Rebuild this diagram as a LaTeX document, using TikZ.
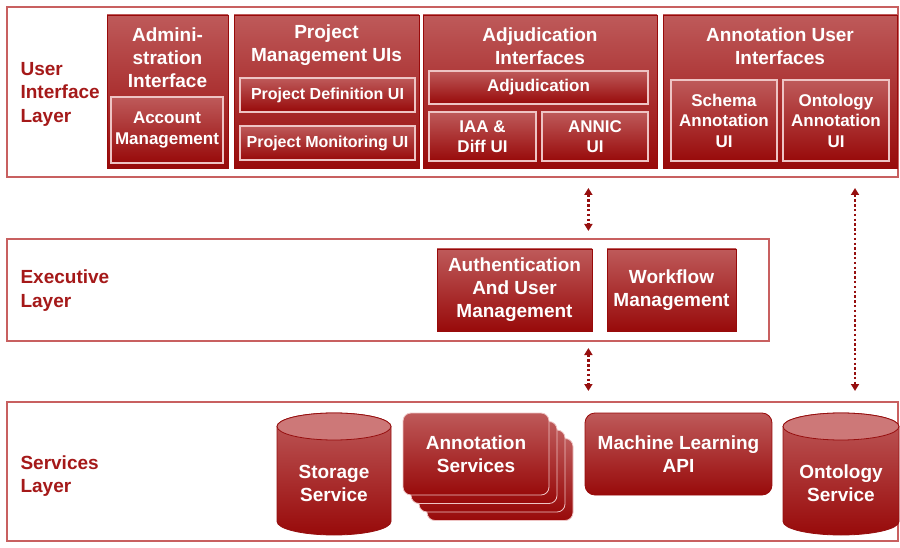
\documentclass[tikz,border=0pt]{standalone}
\usepackage{fontspec}
\setmainfont{Liberation Sans}
\usetikzlibrary{arrows.meta}

\definecolor{boxtop}{RGB}{190,90,90}
\definecolor{boxbot}{RGB}{152,10,10}
\definecolor{rim}{RGB}{238,196,196}
\definecolor{layerline}{RGB}{200,96,96}
\definecolor{layertext}{RGB}{165,25,25}
\definecolor{darkred}{RGB}{150,15,15}
\definecolor{captop}{RGB}{205,120,120}

\tikzset{
    layer/.style={draw=layerline, line width=2pt, fill=white, inner sep=0pt},
    layername/.style={anchor=west, text=layertext, font=\fontsize{19}{23.5}\selectfont\bfseries, align=left},
    redbox/.style={top color=boxtop, bottom color=boxbot, draw=boxbot, line width=0.8pt, inner sep=0pt,
        text=white, align=center, font=\fontsize{19}{23}\selectfont\bfseries},
    innerbox/.style={redbox, draw=rim, line width=1.2pt, font=\fontsize{17}{20.5}\selectfont\bfseries},
    title/.style={text=white, align=center, font=\fontsize{19}{23}\selectfont\bfseries},
    cylbody/.style={top color=boxtop, bottom color=boxbot, draw=darkred, line width=0.8pt},
    cyltop/.style={fill=captop, draw=darkred, line width=0.8pt},
    link/.style={draw=darkred, line width=2.4pt, dash pattern=on 2.4pt off 2.4pt,
        {Triangle[length=7pt,width=8pt]}-{Triangle[length=7pt,width=8pt]}}
}

\begin{document}
\begin{tikzpicture}[x=1pt, y=1pt]
    \useasboundingbox (0, 0) rectangle (900, 547);

    % layers
    \node[layer, minimum width=891pt, minimum height=170pt] (ui) at (452.5, 455) {};
    \node[layer, minimum width=762pt, minimum height=102pt] (exec) at (388, 257) {};
    \node[layer, minimum width=891pt, minimum height=139pt] (serv) at (452.5, 75.5) {};

    \node[layername] (uiname) at (17, 453) {User\\Interface\\Layer};
    \node[layername] (execname) at (17, 256.5) {Executive\\Layer};
    \node[layername] (servname) at (17, 71) {Services\\Layer};

    % user interface layer
    \node[redbox, minimum width=121pt, minimum height=153pt] (admin) at (167.5, 455.5) {};
    \node[redbox, minimum width=185pt, minimum height=153pt] (pm) at (326.5, 455.5) {};
    \node[redbox, minimum width=234pt, minimum height=153pt] (adj) at (540, 455.5) {};
    \node[redbox, minimum width=234pt, minimum height=153pt] (aui) at (780, 455.5) {};

    \node[title] (admintitle) at (167.5, 489) {Admini-\\stration\\Interface};
    \node[title] (pmtitle) at (326.5, 501.5) {Project\\Management UIs};
    \node[title] (adjtitle) at (540, 500.5) {Adjudication\\Interfaces};
    \node[title] (auititle) at (780, 500.5) {Annotation User\\Interfaces};

    \node[innerbox, minimum width=112pt, minimum height=66pt] (acct) at (167, 417) {Account\\Management};
    \node[innerbox, minimum width=175pt, minimum height=34pt, font=\fontsize{16}{19}\selectfont\bfseries] (pdef) at (327.5, 452) {Project Definition UI};
    \node[innerbox, minimum width=175pt, minimum height=34pt, font=\fontsize{16}{19}\selectfont\bfseries] (pmon) at (327.5, 404) {Project Monitoring UI};
    \node[innerbox, minimum width=219pt, minimum height=33pt] (adjud) at (538.5, 459.5) {Adjudication};
    \node[innerbox, minimum width=107pt, minimum height=49pt] (iaa) at (482.5, 410.5) {IAA \&\\Diff UI};
    \node[innerbox, minimum width=106pt, minimum height=49pt] (annic) at (595, 410.5) {ANNIC\\UI};
    \node[innerbox, minimum width=106pt, minimum height=81pt] (schema) at (724, 426.5) {Schema\\Annotation\\UI};
    \node[innerbox, minimum width=106pt, minimum height=81pt] (ontoui) at (836, 426.5) {Ontology\\Annotation\\UI};

    % executive layer
    \node[redbox, minimum width=155pt, minimum height=82pt] (auth) at (514.5, 257) {Authentication\\And User\\Management};
    \node[redbox, minimum width=129pt, minimum height=82pt] (workflow) at (671.5, 257) {Workflow\\Management};

    % services layer
    \foreach \cx/\rx/\name/\word in {334/57/storage/Storage, 841/58/ontology/Ontology} {
        \path[cylbody] ({\cx - \rx}, 120.5) -- ({\cx - \rx}, 25.5)
            arc[start angle=180, end angle=360, x radius=\rx, y radius=13.5]
            -- ({\cx + \rx}, 120.5)
            arc[start angle=0, end angle=180, x radius=\rx, y radius=13.5] -- cycle;
        \path[cyltop] (\cx, 120.5) ellipse[x radius=\rx, y radius=13.5];
        \node[title] (\name) at (\cx, 63.5) {\word\\Service};
    }

    \foreach \k in {3, 2, 1} {
        \node[redbox, draw=rim, rounded corners=8pt, minimum width=146pt, minimum height=82pt]
            (annot\k) at ({476 + 8 * \k}, {93 - 8.5 * \k}) {};
    }
    \node[redbox, draw=rim, rounded corners=8pt, minimum width=146pt, minimum height=82pt] (annot) at (476, 93) {Annotation\\Services};
    \node[redbox, rounded corners=10pt, minimum width=187pt, minimum height=82pt] (ml) at (678.5, 93) {Machine Learning\\API};

    % connectors
    \coordinate (ontox) at (855, 0);
    \draw[link, shorten <=10pt, shorten >=7pt] ([xshift=-4pt]auth.east |- ui.south) -- ([xshift=-4pt]auth.east |- exec.north);
    \draw[link, shorten <=6pt, shorten >=10pt] ([xshift=-4pt]auth.east |- exec.south) -- ([xshift=-4pt]auth.east |- serv.north);
    \draw[link, shorten <=10pt, shorten >=10pt] (ui.south -| ontox) -- (serv.north -| ontox);
\end{tikzpicture}
\end{document}
